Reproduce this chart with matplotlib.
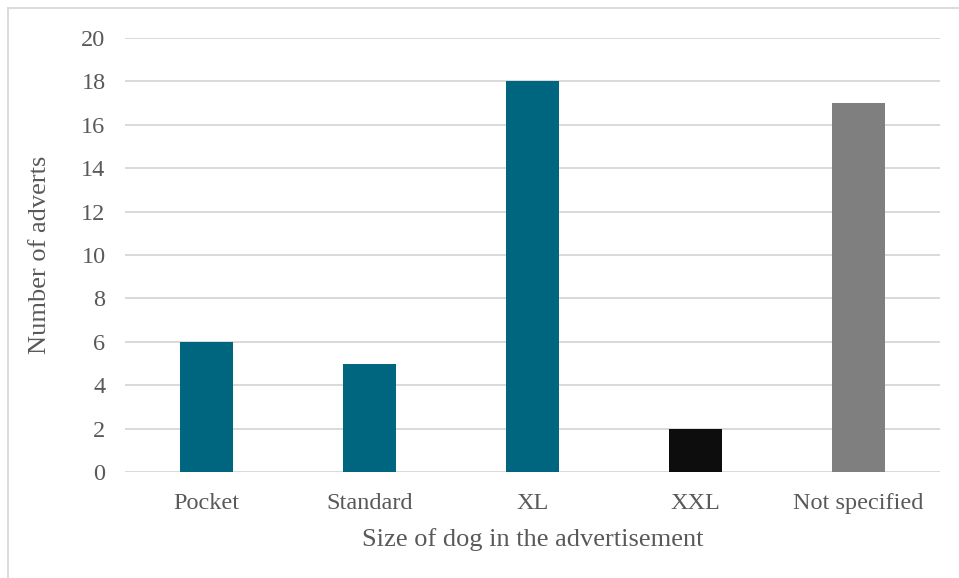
import matplotlib.pyplot as plt
from matplotlib.lines import Line2D

categorias = ['Pocket', 'Standard', 'XL', 'XXL', 'Not specified']
anuncios = [6, 5, 18, 2, 17]
colores = ['#006680', '#006680', '#006680', '#0d0d0d', '#7f7f7f']
yticks = [0, 2, 4, 6, 8, 10, 12, 14, 16, 18, 20]

plt.rcParams['font.family'] = ['Liberation Serif', 'DejaVu Serif']
gris_texto = '#595959'

W, H = 959, 578
fig = plt.figure(figsize=(W/100, H/100), dpi=100)
ax = fig.add_axes([125/W, 1 - 472/H, (940-125)/W, (472-38)/H])

x = range(len(categorias))
ax.bar(x, anuncios, width=0.32, color=colores, zorder=3)

ax.set_xlim(-0.5, len(categorias) - 0.5)
ax.set_ylim(0, 20)
ax.set_yticks(yticks)
ax.set_xticks(list(x))
ax.set_xticklabels(categorias)
ax.grid(axis='y', color='#d9d9d9', linewidth=1.4, zorder=0)
for s in ax.spines.values():
    s.set_visible(False)
ax.tick_params(axis='both', length=0, labelsize=17.5, labelcolor=gris_texto)
ax.tick_params(axis='y', pad=14)
ax.tick_params(axis='x', pad=15)

ax.set_xlabel('Size of dog in the advertisement', fontsize=19, color=gris_texto, labelpad=10)
ax.set_ylabel('Number of adverts', fontsize=19, color=gris_texto, labelpad=22)

# marco exterior (solo borde superior e izquierdo)
fig.add_artist(Line2D([8/W, 1], [1 - 8/H, 1 - 8/H], color='#d9d9d9', linewidth=1.3))
fig.add_artist(Line2D([8/W, 8/W], [0, 1 - 8/H], color='#d9d9d9', linewidth=1.3))

fig.savefig('out.png', dpi=100)
